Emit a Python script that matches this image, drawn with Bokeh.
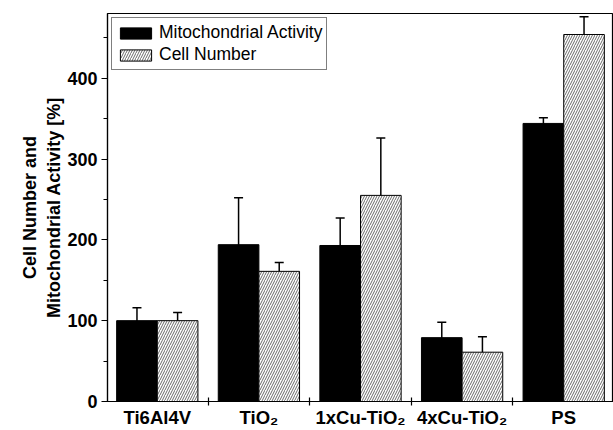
from bokeh.plotting import figure
from bokeh.models import Range1d, FixedTicker, Whisker, TeeHead, ColumnDataSource, Legend, LegendItem
from bokeh.embed import file_html
from bokeh.resources import INLINE

categories = ["Ti6Al4V", "TiO\u2082", "1xCu-TiO\u2082", "4xCu-TiO\u2082", "PS"]
mito_activity = [100, 194, 193, 79, 344]
mito_error = [16, 58, 34, 19, 7]
cell_number = [100, 161, 255, 61, 454]
cell_error = [10, 11, 71, 19, 22]
y_ticks = [0, 100, 200, 300, 400]

FONT = "Liberation Sans"
idx = list(range(1, len(categories) + 1))
off = 0.2

src_m = ColumnDataSource(dict(
    x=[i - off for i in idx], top=mito_activity,
    upper=[v + e for v, e in zip(mito_activity, mito_error)],
    lower=[v - e for v, e in zip(mito_activity, mito_error)]))
src_c = ColumnDataSource(dict(
    x=[i + off for i in idx], top=cell_number,
    upper=[v + e for v, e in zip(cell_number, cell_error)],
    lower=[v - e for v, e in zip(cell_number, cell_error)]))

p = figure(width=613, height=430, output_backend="svg", toolbar_location=None,
           x_range=Range1d(0.51, 5.49), y_range=Range1d(0, 480),
           min_border_left=107, min_border_top=13, min_border_bottom=28, min_border_right=0)
p.xgrid.visible = False
p.ygrid.visible = False
p.outline_line_color = "black"
p.outline_line_width = 1.2
p.background_fill_color = "white"
p.border_fill_color = "white"

r_m = p.vbar(x="x", top="top", width=0.4, source=src_m, fill_color="black",
             line_color="black", line_width=1)
r_c = p.vbar(x="x", top="top", width=0.4, source=src_c, fill_color="white",
             line_color="black", line_width=1, hatch_pattern="/",
             hatch_color="#444444", hatch_scale=5, hatch_weight=0.8)

for s in (src_m, src_c):
    w = Whisker(source=s, base="x", upper="upper", lower="lower",
                line_color="black", line_width=1.5,
                upper_head=TeeHead(size=9, line_color="black", line_width=1.5),
                lower_head=TeeHead(size=9, line_color="black", line_width=1.5))
    p.add_layout(w)

# x axis
xa = p.xaxis[0]
xa.ticker = FixedTicker(ticks=idx, minor_ticks=[i + 0.5 for i in idx[:-1]])
xa.major_label_overrides = {i: c for i, c in zip(idx, categories)}
xa.major_tick_line_color = None
xa.major_tick_in = 0
xa.major_tick_out = 0
xa.minor_tick_in = 4
xa.minor_tick_out = 4
xa.minor_tick_line_width = 1.2
xa.axis_line_width = 1.2
xa.major_label_text_font = FONT
xa.major_label_text_font_style = "bold"
xa.major_label_text_font_size = "18.5px"
xa.major_label_text_color = "black"
xa.major_label_standoff = 1

# y axis
ya = p.yaxis[0]
ya.ticker = FixedTicker(ticks=y_ticks, minor_ticks=[t + 50 for t in y_ticks])
ya.major_tick_in = 0
ya.major_tick_out = 6
ya.minor_tick_in = 0
ya.minor_tick_out = 4
ya.axis_line_width = 1.2
ya.major_tick_line_width = 1.2
ya.major_label_text_font = FONT
ya.major_label_text_font_style = "bold"
ya.major_label_text_font_size = "18px"
ya.major_label_text_color = "black"
ya.major_label_standoff = 4
ya.axis_label = "Cell Number and\nMitochondrial Activity [%]"
ya.axis_label_text_font = FONT
ya.axis_label_text_font_style = "bold"
ya.axis_label_text_font_size = "18px"
ya.axis_label_text_color = "black"
ya.axis_label_standoff = 0

legend = Legend(items=[LegendItem(label="Mitochondrial Activity", renderers=[r_m]),
                       LegendItem(label="Cell Number", renderers=[r_c])],
                location="top_left", margin=4, padding=4, spacing=1,
                glyph_width=39, glyph_height=14, label_standoff=4,
                label_text_font=FONT, label_text_font_size="17.5px",
                label_text_color="black", border_line_color="black",
                border_line_width=1, background_fill_alpha=1)
p.add_layout(legend)

open("out.html", "w").write(file_html(p, INLINE))
